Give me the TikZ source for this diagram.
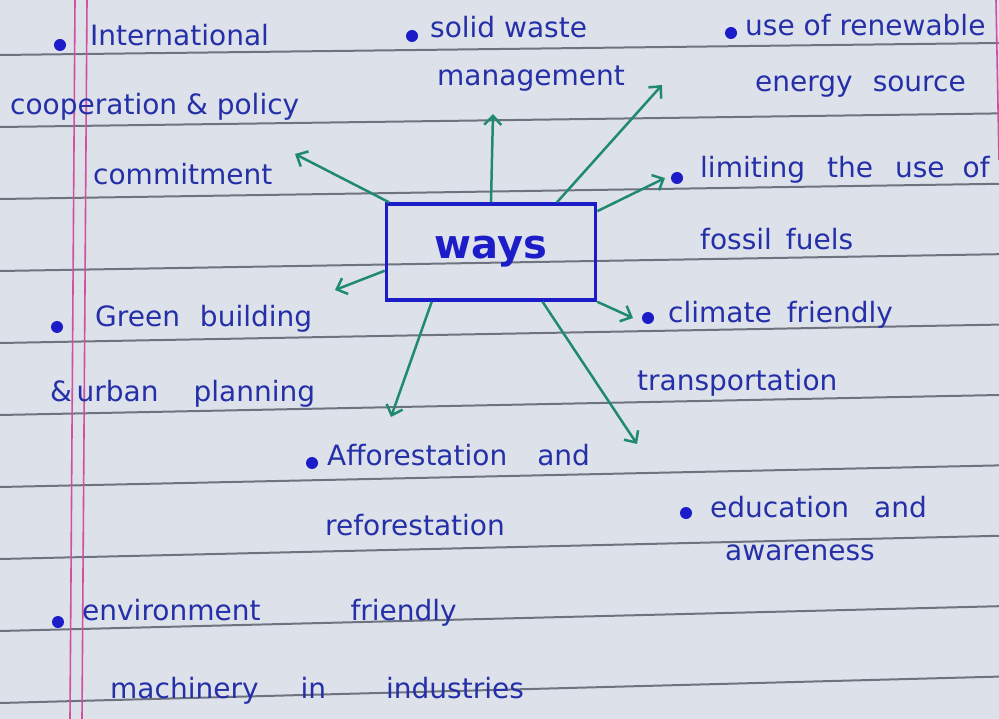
\documentclass[tikz,border=0pt]{standalone}
\usepackage{fontspec}
\setmainfont{DejaVu Sans}
\usepackage{xcolor}
\usetikzlibrary{arrows.meta}

\definecolor{paper}{HTML}{DDE1EA}
\definecolor{rulegrey}{HTML}{6F7380}
\definecolor{marginpink}{HTML}{D24FA0}
\definecolor{inkblue}{HTML}{2530A8}
\definecolor{boxblue}{HTML}{1C1CC8}
\definecolor{arrowgreen}{HTML}{1F8A70}

\begin{document}
\begin{tikzpicture}[x=1pt,y=-1pt,
	ink/.style={text=inkblue,anchor=base west,inner sep=0pt,font=\fontsize{28}{34}\selectfont},
	bulletdot/.style={circle,fill=boxblue,inner sep=0pt,minimum size=12pt},
	waysbox/.style={draw=boxblue,line width=3.5pt,minimum width=209pt,minimum height=96pt,text=boxblue,font=\bfseries\fontsize{40}{48}\selectfont},
	branch/.style={draw=arrowgreen,line width=2.5pt,-{Straight Barb[length=9pt,width=17pt]}},
	ruled/.style={draw=rulegrey,line width=2pt},
	margin line/.style={draw=marginpink,line width=1.6pt},
	]
	% paper
	\fill[paper] (0,0) rectangle (999,719);
	\useasboundingbox (0,0) rectangle (999,719);
	\foreach \k in {0,...,9}
		\draw[ruled] (0,{55+72*\k}) -- (999,{55+72*\k-12-1.6*\k});
	\draw[margin line] (75,0) -- (70,719);
	\draw[margin line] (87,0) -- (82,719);
	\draw[margin line] (996,0) -- (999,160);

	% centre
	\node[waysbox] (ways) at (491,252) {ways};

	% bullets
	\node[bulletdot] (dintl) at (60,45) {};
	\node[bulletdot] (dwaste) at (412,36) {};
	\node[bulletdot] (drenew) at (731,33) {};
	\node[bulletdot] (dlimit) at (677,178) {};
	\node[bulletdot] (dgreen) at (57,327) {};
	\node[bulletdot] (dclimate) at (648,318) {};
	\node[bulletdot] (dforest) at (312,463) {};
	\node[bulletdot] (deduc) at (686,513) {};
	\node[bulletdot] (denv) at (58,622) {};

	% texts
	\node[ink] (intl1) at (90,46) {International};
	\node[ink] (intl2) at (10,115) {cooperation \& policy};
	\node[ink] (intl3) at (93,185) {commitment};
	\node[ink] (waste1) at (430,38) {solid waste};
	\node[ink] (waste2) at (437,86) {management};
	\node[ink] (renew1) at (745,36) {use of renewable};
	\node[ink] (renew2) at (755,92) {energy\hspace{20pt}source};
	\node[ink] (limit1) at (700,178) {limiting\hspace{22pt}the\hspace{22pt}use\hspace{18pt}of};
	\node[ink] (limit2) at (700,250) {fossil\hspace{14pt}fuels};
	\node[ink] (green1) at (95,327) {Green\hspace{20pt}building};
	\node[ink] (green2) at (50,402) {\&\,urban\hspace{35pt}planning};
	\node[ink] (climate1) at (668,323) {climate\hspace{15pt}friendly};
	\node[ink] (climate2) at (637,390) {transportation};
	\node[ink] (forest1) at (327,465) {Afforestation\hspace{30pt}and};
	\node[ink] (forest2) at (325,535) {reforestation};
	\node[ink] (educ1) at (710,517) {education\hspace{25pt}and};
	\node[ink] (educ2) at (725,560) {awareness};
	\node[ink] (env1) at (82,620) {environment\hspace{90pt}friendly};
	\node[ink] (env2) at (110,698) {machinery\hspace{42pt}in\hspace{60pt}industries};

	% arrow tips
	\coordinate (t1) at (295,154);
	\coordinate (t2) at (493,114);
	\coordinate (t3) at (662,85);
	\coordinate (t4) at (665,178);
	\coordinate (t5) at (335,290);
	\coordinate (t6) at (633,318);
	\coordinate (t7) at (391,417);
	\coordinate (t8) at (637,444);

	\draw[branch] (ways.154) -- (t1);
	\draw[branch] (ways.north) -- (t2);
	\draw[branch] (ways.37) -- (t3);
	\draw[branch] (ways.21) -- (t4);
	\draw[branch] (ways.190) -- (t5);
	\draw[branch] (ways.south east) -- (t6);
	\draw[branch] (ways.220) -- (t7);
	\draw[branch] (ways.-44) -- (t8);
\end{tikzpicture}
\end{document}
